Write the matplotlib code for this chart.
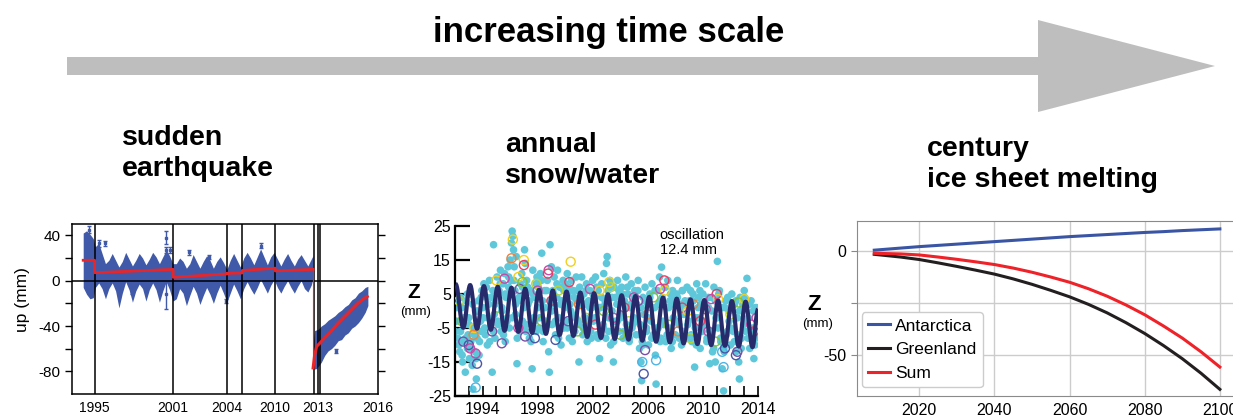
import numpy as np
import matplotlib
matplotlib.use("Agg")
import matplotlib.pyplot as plt
from matplotlib.path import Path
from matplotlib.patches import PathPatch, Polygon

plt.rcParams['font.family'] = ['Liberation Sans', 'DejaVu Sans']
plt.rcParams['axes.unicode_minus'] = False

#%% DATA - panel 1: GPS "up" series with earthquake
band_t = [1994.15, 1994.40, 1994.65, 1994.90,
          1995.05, 1995.30, 1995.55, 1995.80, 1996.05, 1996.30, 1996.55, 1996.80,
          1997.05, 1997.30, 1997.55, 1997.80, 1998.05, 1998.30, 1998.55, 1998.80,
          1999.05, 1999.30, 1999.55, 1999.80, 2000.05, 2000.30, 2000.55, 2000.80,
          2001.05, 2001.30, 2001.55, 2001.80, 2002.05, 2002.30, 2002.55, 2002.80,
          2003.05, 2003.30, 2003.55, 2003.80, 2004.05, 2004.30, 2004.55, 2004.80,
          2005.05, 2005.30, 2005.55, 2005.80, 2006.05, 2006.30, 2006.55, 2006.80,
          2007.05, 2007.30, 2007.55, 2007.80, 2008.05, 2008.30, 2008.55, 2008.80,
          2009.05, 2009.30, 2009.55, 2009.80, 2010.05, 2010.30, 2010.55, 2010.80,
          2011.05, 2011.18]
band_top = [42, 44, 41, 37,
            30, 33, 24, 15, 18, 24, 18, 12,
            17, 25, 19, 13, 18, 24, 20, 14,
            19, 25, 21, 15, 21, 27, 22, 15,
            15, 20, 17, 11, 15, 23, 17, 11,
            17, 22, 18, 11, 17, 21, 16, 10,
            18, 24, 18, 12, 20, 25, 20, 14,
            21, 28, 21, 14, 21, 25, 19, 13,
            19, 24, 18, 13, 19, 23, 18, 13,
            19, 22]
band_bot = [-6, -12, -16, -15,
            -6, -2, -7, -16, -7, -2, -9, -24,
            -11, -1, -8, -19, -9, -3, -7, -18,
            -8, -2, -8, -19, -9, -1, -8, -18,
            -16, -7, -11, -22, -13, -5, -11, -21,
            -13, -6, -12, -20, -11, -4, -11, -19,
            -11, -3, -9, -16, -7, -1, -7, -12,
            -6, 1, -5, -11, -4, 1, -6, -11,
            -5, 0, -6, -11, -5, 0, -7, -10,
            -4, 2]

post_t = [2011.15, 2011.30, 2011.55, 2011.80, 2012.05, 2012.30, 2012.55, 2012.80, 2013.05,
          2013.30, 2013.55, 2013.80, 2014.05, 2014.30, 2014.55, 2014.80, 2015.05, 2015.25]
post_top = [-60, -44, -43, -40, -38, -35, -33, -31, -28, -26, -23, -21, -17, -15, -11, -9, -6, -5]
post_bot = [-78, -78, -76, -72, -66, -62, -60, -57, -53, -52, -48, -46, -42, -40, -37, -33, -28, -22]

# outlying points with error bars
err_t = [1994.6, 1995.3, 1995.8, 1997.8, 2000.3, 2000.3, 2000.3, 2000.6, 2002.0, 2003.5, 2004.7, 2007.3, 2012.9, 2011.3]
err_z = [45, 33, 33, -10, 38, 27, -12, 27, 25, 21, -18, 31, -62, -74]
err_e = [3, 3, 2, 2, 6, 3, 13, 3, 2, 2, 2, 2, 2, 3]

# fitted model (red)
fit_t = [1994.15, 1995.0, 1995.0, 2000.82, 2000.82, 2004.83, 2004.83, 2005.94, 2005.94, 2008.38, 2008.38, 2011.19]
fit_z = [18, 18, 7, 10, 3, 6, 6.5, 6.8, 9, 11, 8.6, 10]
fit_post_t = [2011.19, 2011.30, 2011.45, 2011.70, 2012.0, 2012.5, 2013.0, 2013.5, 2014.0, 2014.5, 2015.0, 2015.2]
fit_post_z = [-77, -66, -58, -55, -51, -45, -38, -32, -26, -20, -15.5, -14]
quake_year = 2011.19

event_lines = [1995.0, 2000.82, 2004.83, 2005.94, 2008.38, 2011.29, 2011.56, 2011.71]
p1_tick_pos = [1995.0, 2000.82, 2004.83, 2008.38, 2011.56, 2016.0]
p1_tick_lab = ['1995', '2001', '2004', '2010', '2013', '2016']

#%% DATA - panel 2: annual oscillation
dots_t = [1992.05, 1992.1, 1992.15, 1992.2, 1992.3, 1992.35, 1992.4, 1992.5, 1992.55, 1992.6, 1992.7, 1992.75, 1992.8, 1992.9, 1992.95,
          1993.0, 1993.05, 1993.1, 1993.15, 1993.25, 1993.3, 1993.35, 1993.45, 1993.5, 1993.55, 1993.6, 1993.7, 1993.75, 1993.85, 1993.9, 1993.95,
          1994.05, 1994.1, 1994.2, 1994.3, 1994.35, 1994.45, 1994.5, 1994.6, 1994.7, 1994.75, 1994.8, 1994.85, 1994.9, 1994.95,
          1995.05, 1995.1, 1995.2, 1995.3, 1995.35, 1995.4, 1995.5, 1995.6, 1995.65, 1995.7, 1995.8, 1995.85, 1995.9, 1995.95,
          1996.0, 1996.05, 1996.1, 1996.15, 1996.2, 1996.25, 1996.3, 1996.35, 1996.4, 1996.45, 1996.5, 1996.6, 1996.7, 1996.75, 1996.85, 1996.9,
          1997.0, 1997.05, 1997.1, 1997.15, 1997.2, 1997.3, 1997.4, 1997.5, 1997.6, 1997.65, 1997.7, 1997.8, 1997.9, 1997.95,
          1998.0, 1998.05, 1998.1, 1998.2, 1998.3, 1998.35, 1998.4, 1998.5, 1998.6, 1998.7, 1998.8, 1998.85, 1998.9, 1998.95,
          1999.0, 1999.05, 1999.1, 1999.2, 1999.3, 1999.4, 1999.45, 1999.55, 1999.6, 1999.7, 1999.75, 1999.85, 1999.9, 1999.95,
          2000.0, 2000.05, 2000.15, 2000.2, 2000.3, 2000.35, 2000.45, 2000.5, 2000.6, 2000.7, 2000.8, 2000.85, 2000.95,
          2001.0, 2001.05, 2001.1, 2001.2, 2001.3, 2001.35, 2001.45, 2001.55, 2001.6, 2001.7, 2001.8, 2001.85, 2001.95,
          2002.0, 2002.05, 2002.15, 2002.2, 2002.3, 2002.4, 2002.5, 2002.55, 2002.65, 2002.75, 2002.8, 2002.9, 2002.95,
          2003.0, 2003.05, 2003.1, 2003.15, 2003.25, 2003.3, 2003.4, 2003.5, 2003.55, 2003.65, 2003.75, 2003.8, 2003.9, 2003.95,
          2004.0, 2004.1, 2004.2, 2004.3, 2004.4, 2004.45, 2004.55, 2004.65, 2004.7, 2004.8, 2004.85, 2004.95,
          2005.0, 2005.05, 2005.15, 2005.2, 2005.3, 2005.4, 2005.45, 2005.5, 2005.55, 2005.6, 2005.65, 2005.7, 2005.8, 2005.9,
          2006.0, 2006.05, 2006.15, 2006.25, 2006.3, 2006.4, 2006.5, 2006.55, 2006.6, 2006.7, 2006.75, 2006.85, 2006.9, 2006.95,
          2007.0, 2007.05, 2007.1, 2007.2, 2007.3, 2007.35, 2007.45, 2007.55, 2007.6, 2007.7, 2007.8, 2007.85, 2007.95,
          2008.0, 2008.1, 2008.15, 2008.25, 2008.35, 2008.45, 2008.5, 2008.6, 2008.7, 2008.8, 2008.85, 2008.95,
          2009.0, 2009.1, 2009.2, 2009.3, 2009.4, 2009.45, 2009.55, 2009.6, 2009.7, 2009.8, 2009.85, 2009.95,
          2010.0, 2010.1, 2010.2, 2010.3, 2010.4, 2010.5, 2010.55, 2010.65, 2010.7, 2010.8, 2010.9, 2010.95,
          2011.0, 2011.05, 2011.1, 2011.2, 2011.3, 2011.4, 2011.5, 2011.55, 2011.6, 2011.7, 2011.8, 2011.9,
          2012.0, 2012.1, 2012.2, 2012.3, 2012.4, 2012.5, 2012.6, 2012.65, 2012.7, 2012.8, 2012.9, 2012.95,
          2013.0, 2013.1, 2013.2, 2013.3, 2013.4, 2013.5, 2013.6, 2013.7, 2013.8, 2013.85, 2013.95]
dots_z = [6, -3, 2, -8, 4, -12, -6, 1, -15, -9, -4, -18, 3, -11, -7,
          -2, -14, 5, -9, -16, -23, -5, -12, 0, -20, -8, 3, -13, -3, -6, 6,
          -2, 8, -7, 4, -10, 2, 9, -4, -18, 6, 19.5, -1, -8, 3,
          10, -3, 6, 12, -6, 1, 8, 11, -9, 4, -2, 13, 7, -5,
          15, 9, 20, 23.5, 22, 18, 13, 6, -1, 16, -15.5, 3, -6, 8, 11, -3,
          5, 18, 14, -4, 9, 2, -8, 6, -17, 12, -2, 4, -6, 10,
          1, 7, -5, 11, 17, 3, -9, 6, -3, 9, -12, -18, 19.5, 2,
          13, -4, 6, 10, -7, 4, 12, -2, 7, -10, 3, 9, -5, 1,
          8, -3, 11, 5, -8, 2, 9, -1, 6, -6, 10, 3, -4,
          -15, 7, 2, 10, -5, 5, -2, 8, -9, 3, 6, -6, 1,
          9, -3, 4, 10, -7, 6, -14, 1, 8, -4, 11, 3, -8,
          14, 16, 6, -2, 9, -10, 4, -15, 7, -3, 2, 9, -6, 5,
          -1, 7, -8, 3, 10, -4, 5, -9, 1, 8, -5, 3,
          -2, 6, -7, 2, 9, -11, -4, -15, -20.5, -9, 4, -1, 7, -6,
          2, -10, 5, -3, 8, -7, 1, -13, -21.5, 6, -5, 10, 3, -8,
          12.9, 4, -3, 7, -9, 1, 9, -5, 3, -11, 6, -2, 4,
          -7, 5, 9, -4, 2, -10, 6, -1, 3, -8, 7, -3,
          1, 6, -9, 3, -16.5, -5, 8, -2, 4, -11, 2, -6,
          5, -3, 8, -8, 1, -15.5, -6, 4, -12, 7, -15, -2,
          3, 14.6, -5, 6, -9, -17, -23.5, -12, 1, -7, 4, -3,
          -10, 5, -6, 2, -12, -2, -15, -20, 4, -8, 1, -4,
          6, -6, 9.6, -2, -11, 3, -5, -14, 1, -8, -3]

# dense core of the daily cloud
core_t = [1992.02, 1992.15, 1992.28, 1992.40, 1992.52, 1992.65, 1992.78, 1992.90,
          1993.02, 1993.15, 1993.28, 1993.40, 1993.52, 1993.65, 1993.78, 1993.90,
          1994.02, 1994.15, 1994.28, 1994.40, 1994.52, 1994.65, 1994.78, 1994.90,
          1995.02, 1995.15, 1995.28, 1995.40, 1995.52, 1995.65, 1995.78, 1995.90,
          1996.02, 1996.15, 1996.28, 1996.40, 1996.52, 1996.65, 1996.78, 1996.90,
          1997.02, 1997.15, 1997.28, 1997.40, 1997.52, 1997.65, 1997.78, 1997.90,
          1998.02, 1998.15, 1998.28, 1998.40, 1998.52, 1998.65, 1998.78, 1998.90,
          1999.02, 1999.15, 1999.28, 1999.40, 1999.52, 1999.65, 1999.78, 1999.90,
          2000.02, 2000.15, 2000.28, 2000.40, 2000.52, 2000.65, 2000.78, 2000.90,
          2001.02, 2001.15, 2001.28, 2001.40, 2001.52, 2001.65, 2001.78, 2001.90,
          2002.02, 2002.15, 2002.28, 2002.40, 2002.52, 2002.65, 2002.78, 2002.90,
          2003.02, 2003.15, 2003.28, 2003.40, 2003.52, 2003.65, 2003.78, 2003.90,
          2004.02, 2004.15, 2004.28, 2004.40, 2004.52, 2004.65, 2004.78, 2004.90,
          2005.02, 2005.15, 2005.28, 2005.40, 2005.52, 2005.65, 2005.78, 2005.90,
          2006.02, 2006.15, 2006.28, 2006.40, 2006.52, 2006.65, 2006.78, 2006.90,
          2007.02, 2007.15, 2007.28, 2007.40, 2007.52, 2007.65, 2007.78, 2007.90,
          2008.02, 2008.15, 2008.28, 2008.40, 2008.52, 2008.65, 2008.78, 2008.90,
          2009.02, 2009.15, 2009.28, 2009.40, 2009.52, 2009.65, 2009.78, 2009.90,
          2010.02, 2010.15, 2010.28, 2010.40, 2010.52, 2010.65, 2010.78, 2010.90,
          2011.02, 2011.15, 2011.28, 2011.40, 2011.52, 2011.65, 2011.78, 2011.90,
          2012.02, 2012.15, 2012.28, 2012.40, 2012.52, 2012.65, 2012.78, 2012.90,
          2013.02, 2013.15, 2013.28, 2013.40, 2013.52, 2013.65, 2013.78, 2013.90]
core_z = [-6, 1, -10, 4, -13, -2, -8, 5,
          -4, -11, 2, -7, -14, 0, -9, 4,
          1, -5, 7, -2, -9, 4, -6, 2,
          3, -4, 8, 0, -7, 5, -3, 10,
          6, -2, 9, 2, -8, 4, -5, 7,
          1, -6, 7, 3, -9, 5, -3, 8,
          4, -2, 9, -6, 1, 6, -4, 3,
          0, 5, -3, 8, -8, 2, -5, 6,
          3, -5, 7, 0, -9, 4, -2, 6,
          -3, 4, -7, 2, 6, -4, 1, -8,
          5, -2, 7, -8, 1, 4, -5, 2,
          3, -6, 7, 0, -9, 4, -3, 6,
          -2, 5, -6, 1, 7, -8, 2, -4,
          4, -3, 6, -7, 1, -10, 3, -5,
          -2, 4, -8, 1, 6, -5, 2, -9,
          3, -4, 7, -7, 1, 5, -9, 2,
          -3, 4, -8, 1, 6, -6, 2, -4,
          3, -7, 5, -2, -10, 1, 6, -5,
          -4, 2, -9, 4, -6, 0, -11, 3,
          -2, 5, -8, 1, -11, 3, -6, 0,
          -5, 2, -9, 3, -7, 0, -11, 2,
          4, -3, -8, 2, -6, 0, -10, 1]

ring_t = [1996.2, 1996.1, 1997.0, 1997.0, 1996.6, 1998.8, 1998.75, 2000.4, 2000.3, 2003.2, 2003.3, 2007.2,
          2007.25, 2011.0, 2011.1, 2013.0, 2012.6, 1995.0, 1995.6, 1996.7, 1996.9, 1997.9, 1998.0, 1999.5,
          2001.8, 2002.5, 2005.0, 2005.3, 2006.4, 2006.9, 2008.5, 2009.3, 2010.2, 1992.3, 1992.5, 1993.4,
          1993.35, 1993.0, 1993.1, 1993.5, 1993.6, 1993.5, 1992.6, 1994.7, 1995.4, 1995.1, 1996.6, 1997.1,
          1997.8, 1998.3, 1999.3, 2000.2, 2000.9, 2001.5, 2002.2, 2003.5, 2004.0, 2004.6, 2005.6, 2005.7,
          2005.8, 2006.6, 2007.5, 2008.2, 2009.1, 2009.8, 2010.4, 2010.9, 2011.4, 2011.5, 2011.6, 2012.4,
          2012.5, 2013.5, 2013.7, 2013.9, 1999.0, 2001.0, 2002.8, 2004.3, 2006.0, 2008.9, 2010.6, 2012.0]
ring_z = [21, 15.5, 15, 13.5, 10, 12, 11, 14.5, 8.5, 8.5, 7, 9,
          6, 5, 3.5, 3.5, 2.5, 9, 9.5, 6.5, 8.5, 8, 6, 6,
          6.5, 6, 4, 3, 4, 6.5, 1, 2, 0.5, 3, -3, -5,
          -7, -10, -11, -12.5, -15.5, -22.5, -9, -6, -9.5, 1, -5, -7.5,
          -8, -3, -8.5, -3, -6, -2, -4, -2, -7, -3, -15, -18.5,
          -11.5, -14.5, -4, -6, -8, -3, -6, -9, -12, -16.5, -11, -13,
          -12, -4, -6, -2, 3, 2, 0, 1, -1, 0, 3.5, -1]
ring_c = ['yellow', 'orange', 'yellow', 'red', 'yellow', 'magenta', 'red', 'yellow', 'red', 'yellow', 'ygreen', 'red',
          'yellow', 'red', 'yellow', 'yellow', 'green', 'yellow', 'magenta', 'purple', 'green', 'ygreen', 'magenta', 'ygreen',
          'magenta', 'yellow', 'magenta', 'purple', 'green', 'magenta', 'red', 'orange', 'magenta', 'ygreen', 'green', 'yellow',
          'orange', 'indigo', 'magenta', 'magenta', 'indigo', 'sky', 'purple', 'purple', 'purple', 'green', 'magenta', 'purple',
          'indigo', 'green', 'indigo', 'purple', 'green', 'ygreen', 'red', 'magenta', 'green', 'ygreen', 'sky', 'indigo',
          'purple', 'sky', 'green', 'orange', 'ygreen', 'red', 'magenta', 'green', 'sky', 'sky', 'indigo', 'indigo',
          'purple', 'magenta', 'red', 'magenta', 'red', 'orange', 'green', 'red', 'orange', 'yellow', 'magenta', 'ygreen']
ring_palette = {'yellow': '#F2CF1D', 'orange': '#F0813A', 'red': '#EC3D63', 'magenta': '#C44BA8',
                'purple': '#7A50A5', 'indigo': '#4A56A6', 'green': '#7CC143', 'ygreen': '#B8D432',
                'sky': '#4DB4E6'}

# annual oscillation: successive maxima / minima of the fitted curve
osc_t = [1992.05, 1992.6, 1993.1, 1993.6, 1994.1, 1994.6, 1995.1, 1995.6, 1996.1, 1996.6, 1997.1, 1997.6,
         1998.1, 1998.6, 1999.1, 1999.6, 2000.1, 2000.6, 2001.1, 2001.6, 2002.1, 2002.6, 2003.1, 2003.6,
         2004.1, 2004.6, 2005.1, 2005.6, 2006.1, 2006.6, 2007.1, 2007.6, 2008.1, 2008.6, 2009.1, 2009.6,
         2010.1, 2010.6, 2011.1, 2011.6, 2012.1, 2012.6, 2013.1, 2013.6, 2014.0]
osc_z = [7.9, -4.9, 7.6, -5.2, 7.3, -5.5, 7.1, -5.8, 6.8, -6.1, 6.5, -6.4,
         6.2, -6.7, 6.0, -7.0, 5.7, -7.3, 5.4, -7.6, 5.2, -7.9, 4.9, -8.2,
         4.6, -8.4, 4.4, -8.7, 4.1, -9.0, 3.9, -9.2, 3.6, -9.5, 3.4, -9.7,
         3.2, -10.0, 3.0, -10.2, 2.9, -10.4, 2.7, -10.6, 0.5]

#%% DATA - panel 3: century ice sheet melting
ice_years = [2008, 2015, 2020, 2025, 2030, 2035, 2040, 2045, 2050, 2055, 2060, 2065, 2070, 2075, 2080, 2085, 2090, 2095, 2100]
antarctica = [0.5, 1.5, 2.2, 2.8, 3.4, 4.0, 4.6, 5.2, 5.8, 6.4, 7.0, 7.5, 8.0, 8.5, 9.0, 9.4, 9.9, 10.3, 10.7]
greenland = [-1.5, -2.8, -4.0, -5.6, -7.3, -9.1, -11.0, -13.3, -15.9, -18.8, -21.9, -25.5, -29.6, -34.3, -39.5, -45.3, -51.6, -58.6, -66.3]
ice_sum = [-1.0, -1.3, -1.8, -2.8, -3.9, -5.1, -6.4, -8.1, -10.1, -12.4, -14.9, -18.0, -21.6, -25.8, -30.5, -35.9, -41.7, -48.3, -55.6]

#%% FIGURE
W, H = 1233, 417
fig = plt.figure(figsize=(W / 100, H / 100), dpi=100)

def fx(px):
    return px / W

def fy(py):
    return 1 - py / H

# big grey arrow
arrow = Polygon([(fx(67), fy(57)), (fx(1038), fy(57)), (fx(1038), fy(20)), (fx(1215), fy(66)),
                 (fx(1038), fy(112)), (fx(1038), fy(75)), (fx(67), fy(75))],
                closed=True, transform=fig.transFigure, facecolor='#BEBEBE', edgecolor='none')
fig.patches.append(arrow)
fig.text(fx(609), fy(42), 'increasing time scale', ha='center', va='baseline',
         fontsize=25, fontweight='bold')

fig.text(fx(122), fy(125), 'sudden\nearthquake', ha='left', va='top', fontsize=20.5,
         fontweight='bold', linespacing=1.25)
fig.text(fx(505), fy(132), 'annual\nsnow/water', ha='left', va='top', fontsize=20.5,
         fontweight='bold', linespacing=1.25)
fig.text(fx(927), fy(136), 'century\nice sheet melting', ha='left', va='top', fontsize=20.5,
         fontweight='bold', linespacing=1.25)

#%% panel 1
ax1 = fig.add_axes([fx(72), fy(394), fx(378) - fx(72), fy(224) - fy(394)])
blue = '#4059A8'
ax1.fill_between(band_t, band_bot, band_top, color=blue, lw=0, zorder=2)
ax1.fill_between(post_t, post_bot, post_top, color=blue, lw=0, zorder=2)
ax1.errorbar(err_t, err_z, yerr=err_e, fmt='s', ms=2, color=blue, ecolor=blue,
             elinewidth=1, capsize=1.5, zorder=2)
ax1.plot(fit_t, fit_z, color='#E8262A', lw=2, zorder=4)
ax1.plot([quake_year, quake_year], [fit_z[-1], fit_post_z[0]], color='#E8262A', lw=0.8, zorder=4)
ax1.plot(fit_post_t, fit_post_z, color='#E8262A', lw=2.2, zorder=4)
for x in event_lines:
    ax1.axvline(x, color='black', lw=1.1, zorder=3)
ax1.axhline(0, color='black', lw=1.1, zorder=3)
ax1.set_xlim(1993.32, 2016.0)
ax1.set_ylim(-100, 50)
ax1.set_yticks([-80, -40, 0, 40])
ax1.set_yticks([-60, -20, 20], minor=True)
ax1.tick_params(axis='y', which='both', direction='out', length=5, width=1, right=True, labelsize=11)
ax1.set_xticks(p1_tick_pos)
ax1.set_xticklabels(p1_tick_lab)
ax1.tick_params(axis='x', length=0, pad=5, labelsize=10)
for s in ax1.spines.values():
    s.set_linewidth(1.1)
fig.text(fx(22), fy(300), 'up (mm)', rotation=90, ha='center', va='center', fontsize=12.5)

#%% panel 2
ax2 = fig.add_axes([fx(455), fy(396), fx(758) - fx(455), fy(226) - fy(396)])
ax2.scatter(core_t, core_z, s=30, color='#5EC8DA', edgecolors='none', zorder=2)
ax2.scatter(dots_t, dots_z, s=30, color='#5EC8DA', edgecolors='none', zorder=2)
ax2.scatter(ring_t, ring_z, s=42, facecolors='none',
            edgecolors=[ring_palette[c] for c in ring_c], linewidths=1.0, zorder=3)

verts = [(osc_t[0], osc_z[0])]
codes = [Path.MOVETO]
for i in range(1, len(osc_t)):
    t0, z0 = osc_t[i - 1], osc_z[i - 1]
    t1, z1 = osc_t[i], osc_z[i]
    d = 0.3642 * (t1 - t0)
    verts += [(t0 + d, z0), (t1 - d, z1), (t1, z1)]
    codes += [Path.CURVE4] * 3
ax2.add_patch(PathPatch(Path(verts, codes), facecolor='none', edgecolor='#272A6B',
                        lw=3.0, zorder=4, clip_on=True))

ax2.set_xlim(1992, 2014)
ax2.set_ylim(-25, 25)
ax2.spines['top'].set_visible(False)
ax2.spines['right'].set_visible(False)
ax2.spines['left'].set_linewidth(1.6)
ax2.spines['bottom'].set_linewidth(1.6)
ax2.set_yticks([-25, -15, -5, 5, 15, 25])
ax2.tick_params(axis='y', direction='in', length=11, width=1.6, labelsize=11.5, pad=3)
ax2.set_xticks(range(1992, 2015))
ax2.set_xticklabels([str(y) if (y - 1994) % 4 == 0 else '' for y in range(1992, 2015)])
ax2.tick_params(axis='x', direction='in', length=7, width=1.2, labelsize=11.5, pad=4)
ax2.text(0.675, 0.99, 'oscillation\n12.4 mm', transform=ax2.transAxes, ha='left', va='top',
         fontsize=10.5, linespacing=1.1)
fig.text(fx(414), fy(293), 'Z', ha='center', va='center', fontsize=15, fontweight='bold')
fig.text(fx(416), fy(312), '(mm)', ha='center', va='center', fontsize=9.5)

#%% panel 3
ax3 = fig.add_axes([fx(857), fy(396), 1 - fx(857), fy(221) - fy(396)])
ax3.plot(ice_years, antarctica, color='#3A55A4', lw=2.2, label='Antarctica')
ax3.plot(ice_years, greenland, color='#231F20', lw=2.2, label='Greenland')
ax3.plot(ice_years, ice_sum, color='#EE2229', lw=2.2, label='Sum')
ax3.set_xlim(2003.4, 2103.5)
ax3.set_ylim(-69.5, 14.5)
ax3.set_xticks([2020, 2040, 2060, 2080, 2100])
ax3.set_yticks([-50, -25, 0])
ax3.set_yticklabels(['-50', '', '0'])
ax3.grid(True, color='#CCCCCC', lw=1)
ax3.set_axisbelow(True)
ax3.tick_params(axis='x', length=0, pad=5, labelsize=11.5)
ax3.tick_params(axis='y', length=4, color='#888888', labelsize=11.5)
for s in ax3.spines.values():
    s.set_color('#8A8A8A')
ax3.spines['right'].set_visible(False)
ax3.legend(loc='lower left', bbox_to_anchor=(0.012, 0.05), borderaxespad=0, fontsize=12.5,
           handlelength=1.3, handletextpad=0.3, borderpad=0.35, framealpha=1,
           edgecolor='#CCCCCC')
fig.text(fx(814), fy(304), 'Z', ha='center', va='center', fontsize=16, fontweight='bold')
fig.text(fx(818), fy(324), '(mm)', ha='center', va='center', fontsize=9.5)

plt.savefig('out.png', dpi=100)
